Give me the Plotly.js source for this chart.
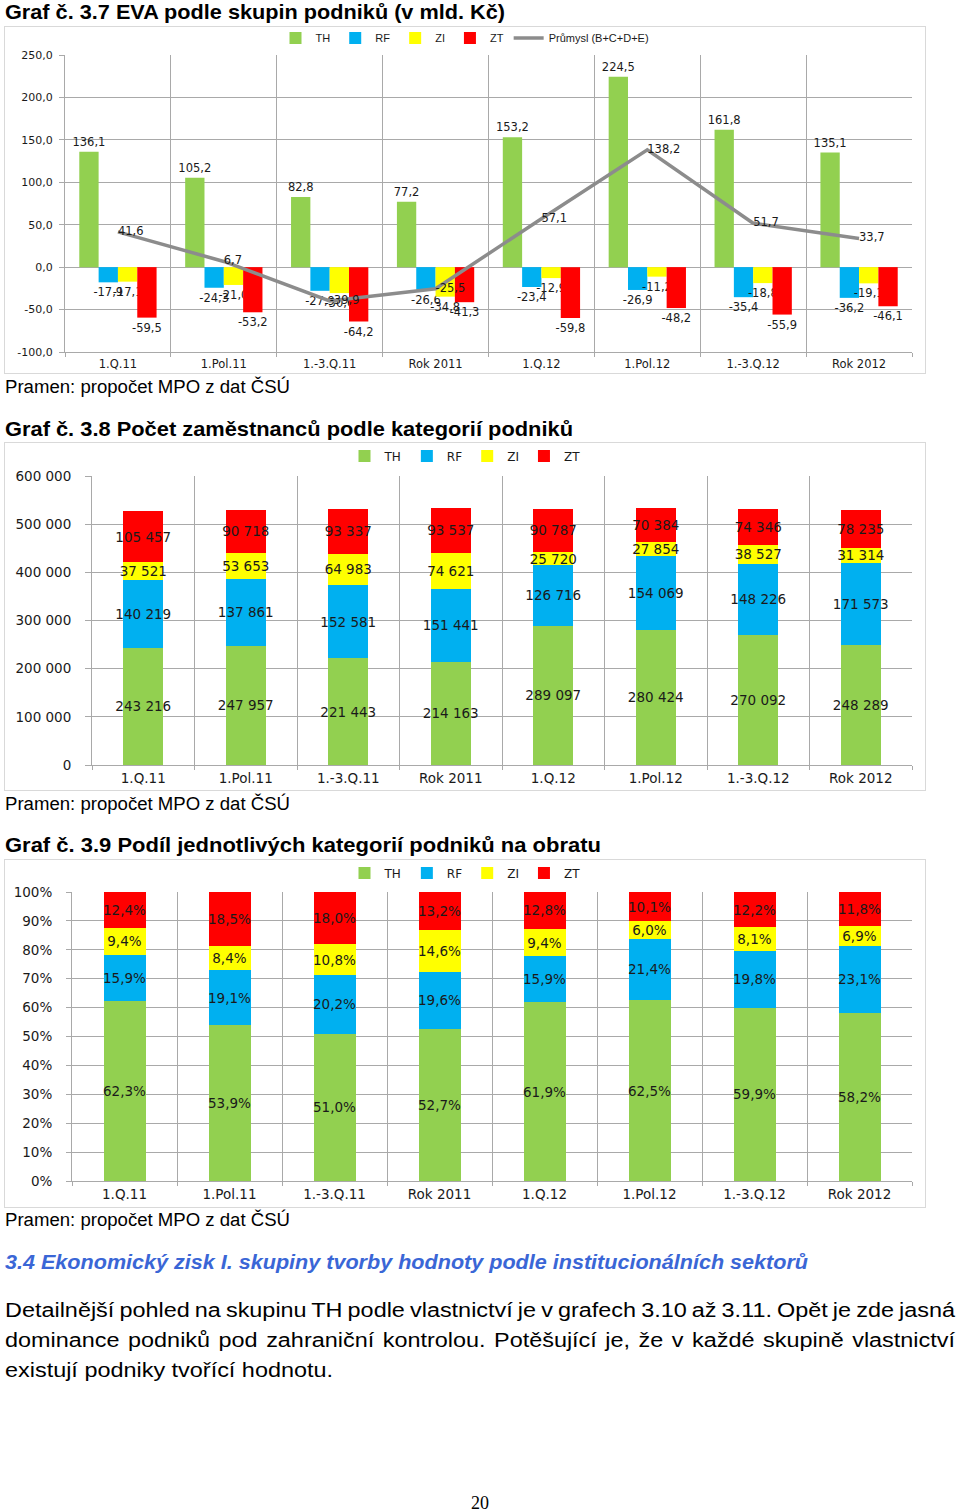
<!DOCTYPE html>
<html>
<head>
<meta charset="utf-8">
<script src="https://cdn.plot.ly/plotly-3.0.1.min.js"></script>
<style>
  html, body { margin: 0; padding: 0; background: #fff; }
  body { width: 960px; height: 1512px; position: relative; overflow: hidden; }
  .t { position: absolute; left: 5px; white-space: nowrap; transform-origin: 0 50%;
       font-family: 'Liberation Sans Narrow', 'Liberation Sans', 'Noto Sans', sans-serif; color: #000; }
  .ttl { font-weight: bold; font-size: 21px; line-height: 26px; }
  .src { font-size: 18px; line-height: 22px; }
  .head { font-weight: bold; font-style: italic; font-size: 21px; line-height: 26px; color: #3a66d6; }
  .body { font-size: 20px; line-height: 26px; }
  .frame { position: absolute; left: 4px; width: 920px; border: 1px solid #d9d9d9; }
  .pg { position: absolute; left: 0; width: 960px; text-align: center; top: 1492px;
        font-family: 'Liberation Serif', 'DejaVu Serif', serif; font-size: 18px; line-height: 22px; }
</style>
</head>
<body>

<div class="t ttl" id="title1" style="top:-1px">Graf č. 3.7 EVA podle skupin podniků (v mld. Kč)</div>
<div class="frame" style="top:26px;height:346px"><div id="chart1"></div></div>
<div class="t src" id="src1" style="top:376px">Pramen: propočet MPO z dat ČSÚ</div>

<div class="t ttl" id="title2" style="top:416px">Graf č. 3.8 Počet zaměstnanců podle kategorií podniků</div>
<div class="frame" style="top:442px;height:347px"><div id="chart2"></div></div>
<div class="t src" id="src2" style="top:793px">Pramen: propočet MPO z dat ČSÚ</div>

<div class="t ttl" id="title3" style="top:832px">Graf č. 3.9 Podíl jednotlivých kategorií podniků na obratu</div>
<div class="frame" style="top:859px;height:347px"><div id="chart3"></div></div>
<div class="t src" id="src3" style="top:1209px">Pramen: propočet MPO z dat ČSÚ</div>

<div class="t head" id="head" style="top:1249px">3.4 Ekonomický zisk I. skupiny tvorby hodnoty podle institucionálních sektorů</div>
<div class="t body" id="line1" style="top:1297px">Detailnější pohled na skupinu TH podle vlastnictví je v grafech 3.10 až 3.11. Opět je zde jasná</div>
<div class="t body" id="line2" style="top:1327px">dominance podniků pod zahraniční kontrolou. Potěšující je, že v každé skupině vlastnictví</div>
<div class="t body" id="line3" style="top:1357px">existují podniky tvořící hodnotu.</div>

<div class="pg">20</div>

<script>
// ---------- shared ----------
const categories = ['1.Q.11', '1.Pol.11', '1.-3.Q.11', 'Rok 2011', '1.Q.12', '1.Pol.12', '1.-3.Q.12', 'Rok 2012'];
const seriesNames = ['TH', 'RF', 'ZI', 'ZT'];
const seriesColors = ['#92D050', '#00B0F0', '#FFFF00', '#FF0000'];

// ---------- Graf 3.7 EVA (mld. Kč) ----------
const evaTH = [136.1, 105.2, 82.8, 77.2, 153.2, 224.5, 161.8, 135.1];
const evaRF = [-17.9, -24.3, -27.9, -26.6, -23.4, -26.9, -35.4, -36.2];
const evaZI = [-17.1, -21.0, -30.6, -34.8, -12.9, -11.2, -18.8, -19.1];
const evaZT = [-59.5, -53.2, -64.2, -41.3, -59.8, -48.2, -55.9, -46.1];
const evaPrumysl = [41.6, 6.7, -39.9, -25.5, 57.1, 138.2, 51.7, 33.7];
const evaLineName = 'Průmysl (B+C+D+E)';
const evaTicks = [-100, -50, 0, 50, 100, 150, 200, 250];

// ---------- Graf 3.8 employees ----------
const empTH = [243216, 247957, 221443, 214163, 289097, 280424, 270092, 248289];
const empRF = [140219, 137861, 152581, 151441, 126716, 154069, 148226, 171573];
const empZI = [37521, 53653, 64983, 74621, 25720, 27854, 38527, 31314];
const empZT = [105457, 90718, 93337, 93537, 90787, 70384, 74346, 78235];
const empTicks = [0, 100000, 200000, 300000, 400000, 500000, 600000];

// ---------- Graf 3.9 share of turnover (%) ----------
const shareTH = [62.3, 53.9, 51.0, 52.7, 61.9, 62.5, 59.9, 58.2];
const shareRF = [15.9, 19.1, 20.2, 19.6, 15.9, 21.4, 19.8, 23.1];
const shareZI = [9.4, 8.4, 10.8, 14.6, 9.4, 6.0, 8.1, 6.9];
const shareZT = [12.4, 18.5, 18.0, 13.2, 12.8, 10.1, 12.2, 11.8];
const shareTicks = [0, 10, 20, 30, 40, 50, 60, 70, 80, 90, 100];

// ---------- formatting ----------
const fmt1 = v => v.toFixed(1).replace('.', ',');
const fmtInt = v => String(v).replace(/\B(?=(\d{3})+(?!\d))/g, ' ');
const fmtPct = v => v.toFixed(1).replace('.', ',') + '%';

const F = 'DejaVu Sans, Verdana, sans-serif';
const GRID = '#a9a9a9';
const TXT = '#1a1a1a';
const cfg = { displayModeBar: false, staticPlot: true };

function catAxis(fs, standoff) {
  return {
    type: 'category', tickson: 'boundaries', showgrid: true, gridcolor: GRID, gridwidth: 1,
    ticks: 'outside', ticklen: 4, tickcolor: GRID, showline: true, linecolor: GRID,
    tickfont: { family: F, size: fs, color: TXT }, ticklabelstandoff: standoff, fixedrange: true
  };
}
function legendAt(h, fromTop, font) {
  return {
    orientation: 'h', x: 0.5, xanchor: 'center', xref: 'container',
    y: 1 - fromTop / h, yanchor: 'middle', yref: 'container',
    font: font, itemwidth: 30, traceorder: 'normal', bgcolor: 'rgba(0,0,0,0)'
  };
}

// ---------- chart 1 ----------
(function () {
  const vals = [evaTH, evaRF, evaZI, evaZT];
  const traces = vals.map((v, i) => ({
    type: 'bar', name: seriesNames[i], x: categories, y: v,
    marker: { color: seriesColors[i] },
    text: v.map(fmt1), textposition: 'outside', textangle: 0, constraintext: 'none', cliponaxis: false,
    textfont: { family: F, size: 11.5, color: TXT }, hoverinfo: 'skip'
  }));
  traces.push({
    type: 'scatter', mode: 'lines+text', name: evaLineName, x: categories, y: evaPrumysl,
    line: { color: '#8c8c8c', width: 3.5 },
    text: evaPrumysl.map(fmt1), textposition: 'middle right', cliponaxis: false,
    textfont: { family: F, size: 11.5, color: TXT }, hoverinfo: 'skip'
  });
  const layout = {
    width: 920, height: 346, margin: { l: 60, r: 13, t: 28, b: 21 },
    paper_bgcolor: '#fff', plot_bgcolor: '#fff',
    barmode: 'group', bargap: 0.27, bargroupgap: 0,
    showlegend: true,
    legend: legendAt(346, 11, { family: 'Liberation Sans Narrow, Liberation Sans, sans-serif', size: 11, color: TXT }),
    xaxis: catAxis(11.5, 1),
    yaxis: {
      range: [-100, 250], tickvals: evaTicks, ticktext: evaTicks.map(fmt1),
      showgrid: true, gridcolor: GRID, zeroline: true, zerolinecolor: GRID, zerolinewidth: 1,
      showline: true, linecolor: GRID, ticks: 'outside', ticklen: 5, tickcolor: GRID,
      tickfont: { family: F, size: 11, color: TXT }, ticklabelstandoff: 4, fixedrange: true
    }
  };
  Plotly.newPlot('chart1', traces, layout, cfg);
})();

// ---------- chart 2 ----------
(function () {
  const vals = [empTH, empRF, empZI, empZT];
  const traces = vals.map((v, i) => ({
    type: 'bar', name: seriesNames[i], x: categories, y: v,
    marker: { color: seriesColors[i] },
    text: v.map(fmtInt), textposition: 'inside', insidetextanchor: 'middle', textangle: 0, constraintext: 'none',
    textfont: { family: F, size: 13.5, color: TXT }, hoverinfo: 'skip'
  }));
  const layout = {
    width: 920, height: 347, margin: { l: 87, r: 13, t: 33, b: 25 },
    paper_bgcolor: '#fff', plot_bgcolor: '#fff',
    barmode: 'stack', bargap: 0.61,
    showlegend: true,
    legend: legendAt(347, 13, { family: F, size: 12, color: TXT }),
    xaxis: catAxis(13.5, 1),
    yaxis: {
      range: [0, 600000], tickvals: empTicks, ticktext: empTicks.map(fmtInt),
      showgrid: true, gridcolor: GRID, zeroline: false,
      showline: true, linecolor: GRID, ticks: 'outside', ticklen: 6, tickcolor: GRID,
      tickfont: { family: F, size: 13.5, color: TXT }, ticklabelstandoff: 11, fixedrange: true
    }
  };
  Plotly.newPlot('chart2', traces, layout, cfg);
})();

// ---------- chart 3 ----------
(function () {
  const vals = [shareTH, shareRF, shareZI, shareZT];
  const traces = vals.map((v, i) => ({
    type: 'bar', name: seriesNames[i], x: categories, y: v,
    marker: { color: seriesColors[i] },
    text: v.map(fmtPct), textposition: 'inside', insidetextanchor: 'middle', textangle: 0, constraintext: 'none',
    textfont: { family: F, size: 13.5, color: TXT }, hoverinfo: 'skip'
  }));
  const layout = {
    width: 920, height: 347, margin: { l: 67, r: 13, t: 32, b: 26 },
    paper_bgcolor: '#fff', plot_bgcolor: '#fff',
    barmode: 'stack', bargap: 0.6,
    showlegend: true,
    legend: legendAt(347, 13, { family: F, size: 12, color: TXT }),
    xaxis: catAxis(13.5, 1),
    yaxis: {
      range: [0, 100], tickvals: shareTicks, ticktext: shareTicks.map(v => v + '%'),
      showgrid: true, gridcolor: GRID, zeroline: false,
      showline: true, linecolor: GRID, ticks: 'outside', ticklen: 5, tickcolor: GRID,
      tickfont: { family: F, size: 13.5, color: TXT }, ticklabelstandoff: 11, fixedrange: true
    }
  };
  Plotly.newPlot('chart3', traces, layout, cfg);
})();

// ---------- text fitting ----------
function fitWidth(id, target) {
  const el = document.getElementById(id);
  const w = el.getBoundingClientRect().width;
  el.style.transform = 'scaleX(' + (target / w) + ')';
}
function justifyLine(id, target, s) {
  const el = document.getElementById(id);
  const w = el.getBoundingClientRect().width;
  const n = (el.textContent.match(/ /g) || []).length;
  el.style.wordSpacing = ((target / s - w) / n) + 'px';
  el.style.transform = 'scaleX(' + s + ')';
}
function layoutText() {
  fitWidth('title1', 500);
  fitWidth('title2', 568);
  fitWidth('title3', 596);
  fitWidth('src1', 285);
  fitWidth('src2', 285);
  fitWidth('src3', 285);
  fitWidth('head', 803);
  const l3 = document.getElementById('line3');
  const s = 328 / l3.getBoundingClientRect().width;
  l3.style.transform = 'scaleX(' + s + ')';
  justifyLine('line1', 950, s);
  justifyLine('line2', 950, s);
}
if (document.fonts && document.fonts.ready) { document.fonts.ready.then(layoutText); } else { layoutText(); }
</script>
</body>
</html>
